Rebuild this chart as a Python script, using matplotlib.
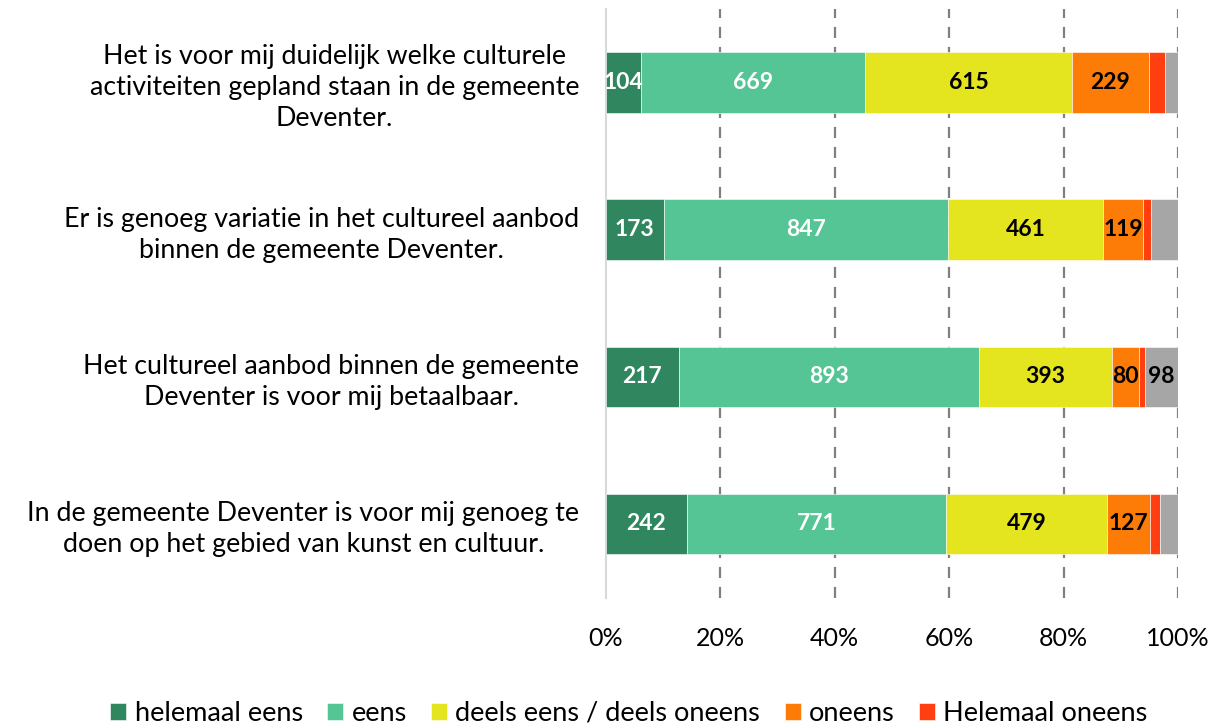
import numpy as np
import matplotlib.pyplot as plt

plt.rcParams['font.family'] = ['Lato', 'DejaVu Sans']

vragen = [
    'Het is voor mij duidelijk welke culturele\nactiviteiten gepland staan in de gemeente\nDeventer.',
    'Er is genoeg variatie in het cultureel aanbod\nbinnen de gemeente Deventer.',
    'Het cultureel aanbod binnen de gemeente\nDeventer is voor mij betaalbaar.',
    'In de gemeente Deventer is voor mij genoeg te\ndoen op het gebied van kunst en cultuur.',
]

helemaal_eens = [104, 173, 217, 242]
eens = [669, 847, 893, 771]
deels = [615, 461, 393, 479]
oneens = [229, 119, 80, 127]
helemaal_oneens = [48, 24, 19, 30]
weet_niet = [39, 81, 98, 54]

series = [
    ('helemaal eens', helemaal_eens, '#30865f', 'white', True),
    ('eens', eens, '#55c596', 'white', True),
    ('deels eens / deels oneens', deels, '#e5e51f', 'black', True),
    ('oneens', oneens, '#fd7c07', 'black', True),
    ('Helemaal oneens', helemaal_oneens, '#ff3f0f', 'black', False),
    ('weet niet', weet_niet, '#a6a6a6', 'black', False),
]

counts = np.array([s[1] for s in series], dtype=float)
totals = counts.sum(axis=0)
shares = counts / totals

fig = plt.figure(figsize=(12.26, 7.27), dpi=100)
ax = fig.add_axes([0.494, 0.178, 0.467, 0.81])

y = np.arange(len(vragen))
left = np.zeros(len(vragen))
handles = []
for i, (name, vals, col, tcol, show) in enumerate(series):
    bars = ax.barh(y, shares[i], left=left, height=0.41, color=col,
                   edgecolor='white', linewidth=0.4, zorder=3)
    if i < 5:
        handles.append(bars)
    for j, v in enumerate(vals):
        if show or (name == 'weet niet' and v >= 90):
            ax.text(left[j] + shares[i][j] / 2, y[j], str(v), ha='center',
                    va='center', color=tcol, fontsize=16.5, fontweight='bold',
                    zorder=4)
    left += shares[i]

ax.set_xlim(0, 1)
ax.set_ylim(3.5, -0.5)
ax.set_xticks(np.arange(0, 1.01, 0.2))
ax.set_xticklabels([f'{int(round(t * 100))}%' for t in np.arange(0, 1.01, 0.2)],
                   fontsize=18)
ax.set_yticks(y)
ax.set_yticklabels(vragen, fontsize=19.3, multialignment='center',
                   linespacing=1.3)
ax.tick_params(axis='both', length=0)
ax.tick_params(axis='x', pad=21)
ax.tick_params(axis='y', pad=19)

for s in ['top', 'right', 'bottom']:
    ax.spines[s].set_visible(False)
ax.spines['left'].set_color('#d9d9d9')
ax.spines['left'].set_linewidth(1.5)

for t in np.arange(0.2, 1.01, 0.2):
    ax.axvline(t, color='#808080', linestyle=(0, (5, 4)), linewidth=1.6,
               zorder=1)

fig.legend(handles, [s[0] for s in series[:5]], loc='lower center',
           bbox_to_anchor=(0.513, -0.032), ncol=5, frameon=False, fontsize=19.5,
           handlelength=0.6, handleheight=0.6, handletextpad=0.3,
           columnspacing=0.9)

fig.savefig('out.png', dpi=100)
